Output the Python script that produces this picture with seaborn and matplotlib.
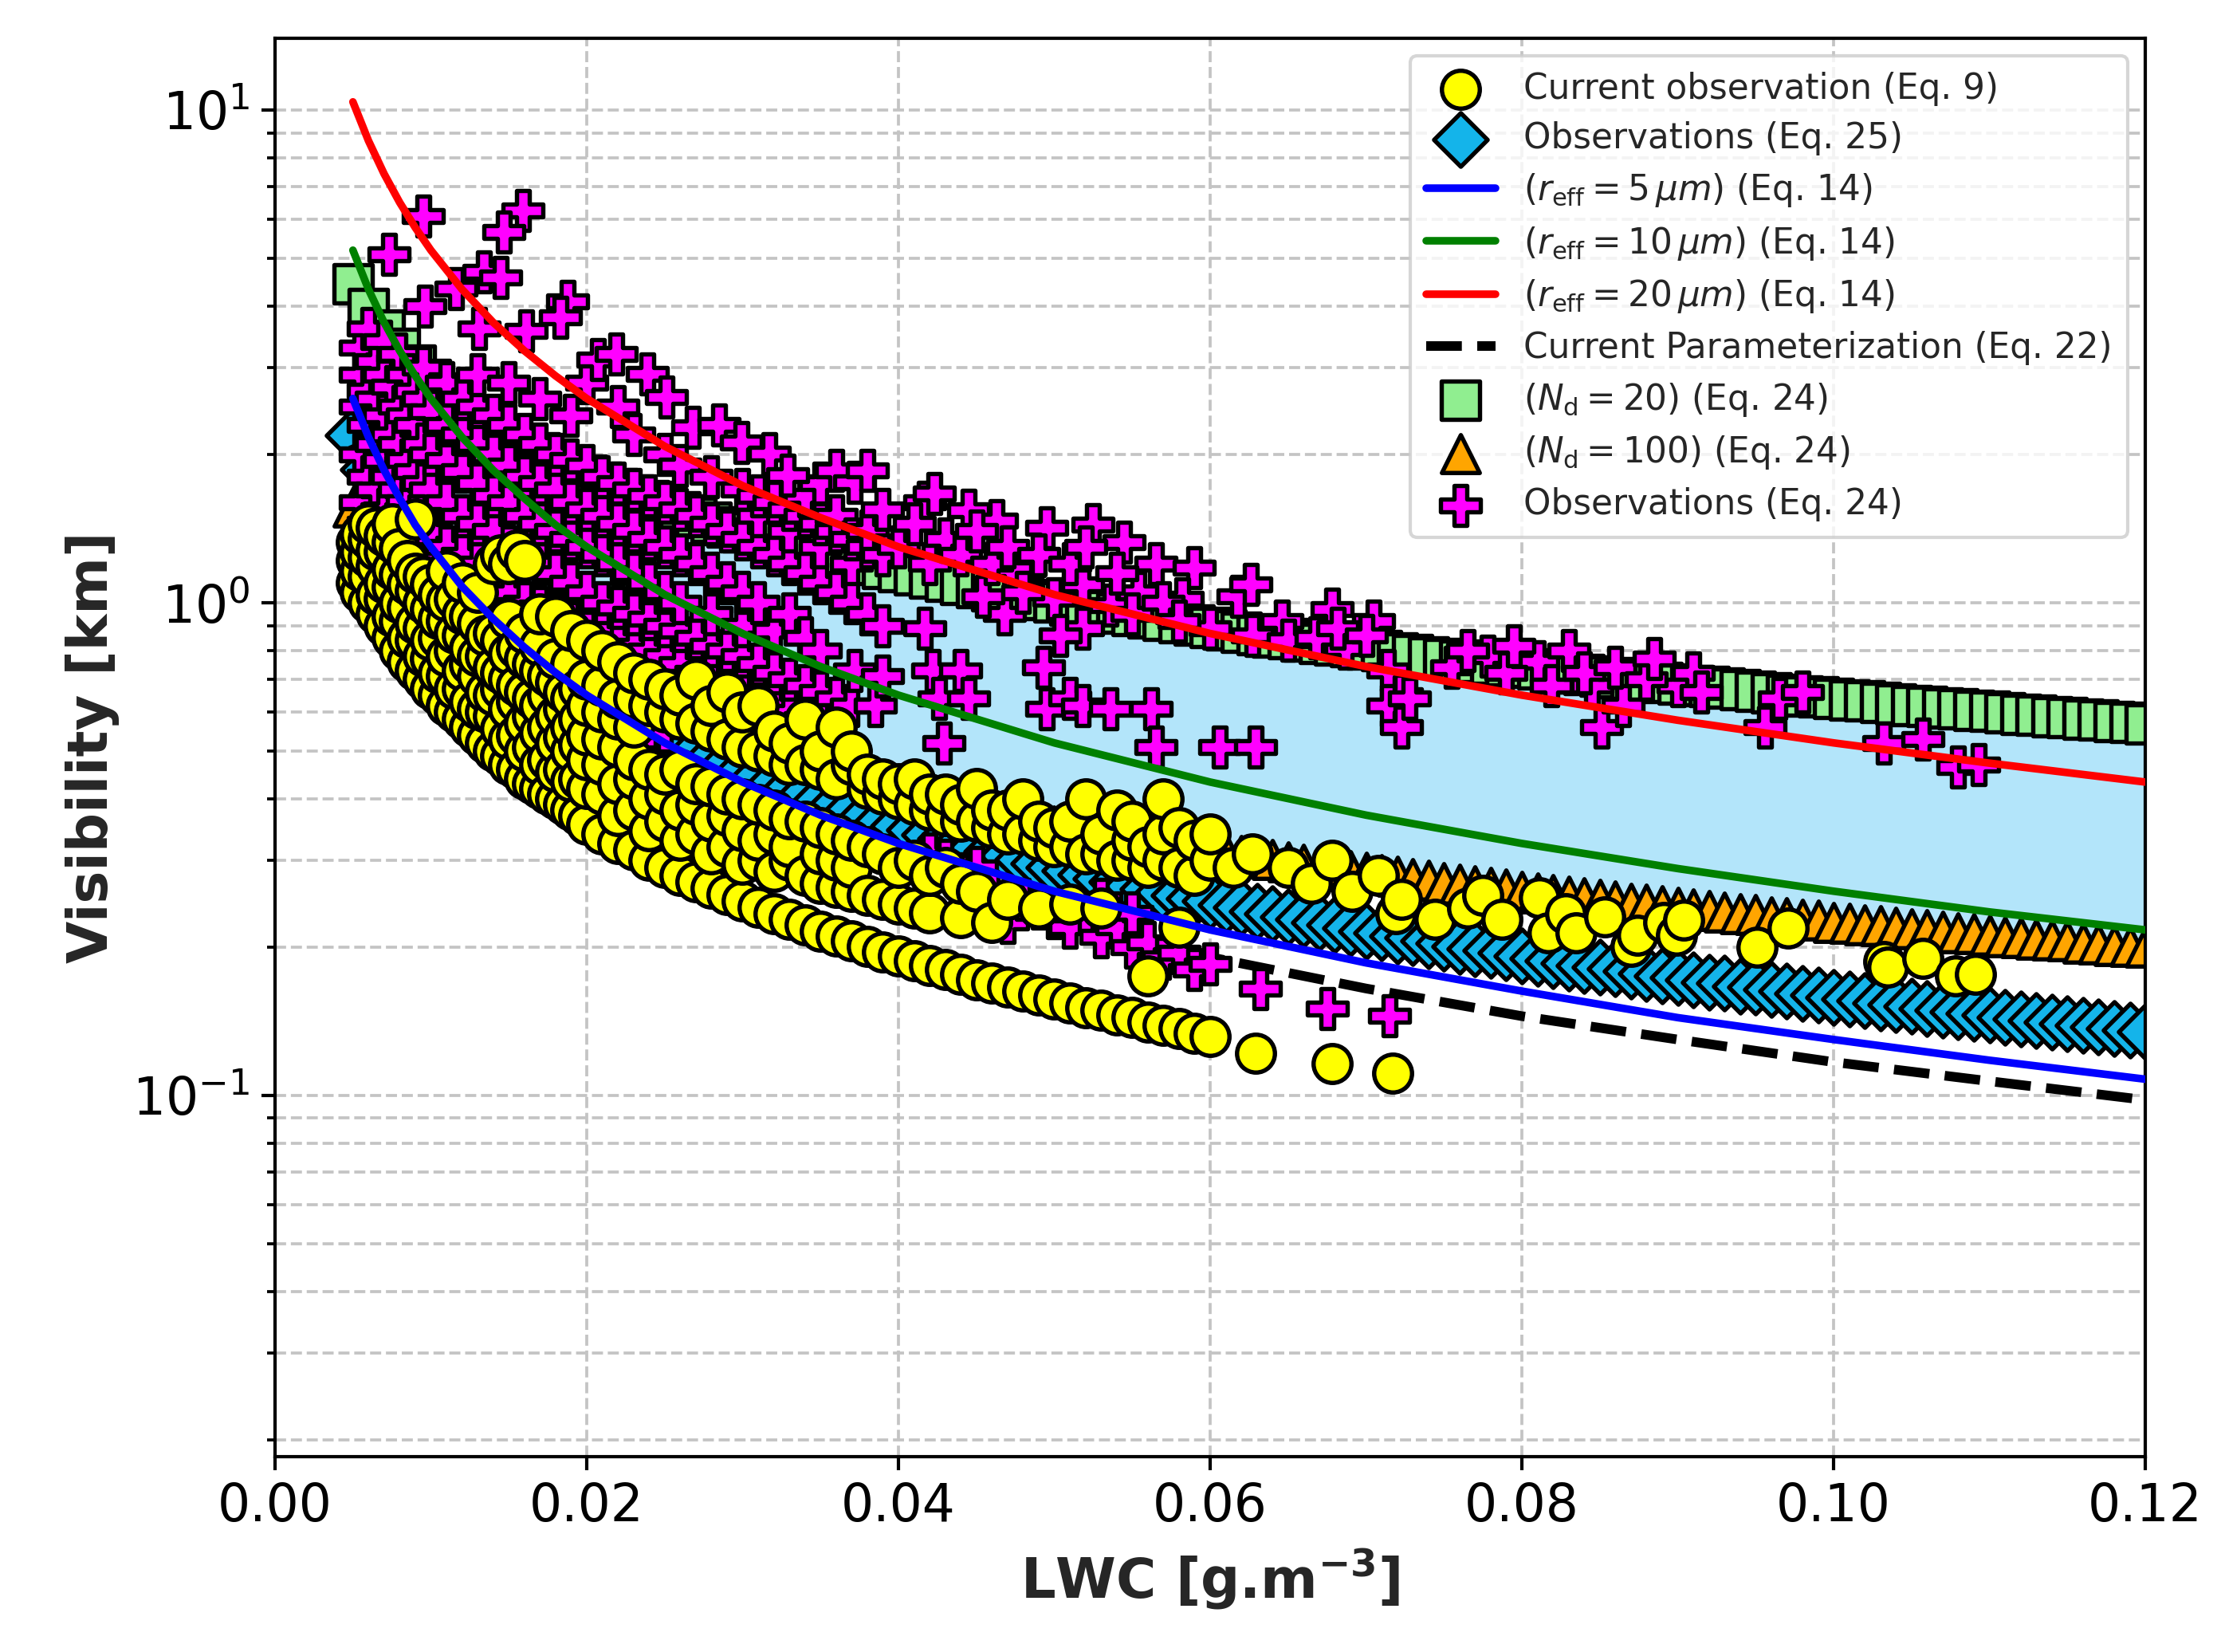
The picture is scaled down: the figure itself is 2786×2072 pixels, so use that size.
import matplotlib
matplotlib.use("Agg")
import matplotlib.pyplot as plt
from matplotlib.ticker import FormatStrFormatter
import seaborn as sns

# ---- data ---------------------------------------------------------------
# regular LWC grid used by the parameterisation markers (g m-3)
lwc_grid = [
    0.005, 0.006, 0.007, 0.008, 0.009, 0.010, 0.011, 0.012, 0.013, 0.014,
    0.015, 0.016, 0.017, 0.018, 0.019, 0.020, 0.021, 0.022, 0.023, 0.024,
    0.025, 0.026, 0.027, 0.028, 0.029, 0.030, 0.031, 0.032, 0.033, 0.034,
    0.035, 0.036, 0.037, 0.038, 0.039, 0.040, 0.041, 0.042, 0.043, 0.044,
    0.045, 0.046, 0.047, 0.048, 0.049, 0.050, 0.051, 0.052, 0.053, 0.054,
    0.055, 0.056, 0.057, 0.058, 0.059, 0.060, 0.061, 0.062, 0.063, 0.064,
    0.065, 0.066, 0.067, 0.068, 0.069, 0.070, 0.071, 0.072, 0.073, 0.074,
    0.075, 0.076, 0.077, 0.078, 0.079, 0.080, 0.081, 0.082, 0.083, 0.084,
    0.085, 0.086, 0.087, 0.088, 0.089, 0.090, 0.091, 0.092, 0.093, 0.094,
    0.095, 0.096, 0.097, 0.098, 0.099, 0.100, 0.101, 0.102, 0.103, 0.104,
    0.105, 0.106, 0.107, 0.108, 0.109, 0.110, 0.111, 0.112, 0.113, 0.114,
    0.115, 0.116, 0.117, 0.118, 0.119, 0.120,
]

# (Nd = 20) (Eq. 24) - green squares
vis_nd20 = [
    4.450, 3.955, 3.579, 3.283, 3.042, 2.841, 2.671, 2.525, 2.397, 2.285,
    2.185, 2.096, 2.015, 1.942, 1.875, 1.814, 1.758, 1.706, 1.657, 1.612,
    1.570, 1.531, 1.494, 1.459, 1.426, 1.395, 1.366, 1.338, 1.312, 1.287,
    1.263, 1.240, 1.218, 1.197, 1.177, 1.158, 1.140, 1.122, 1.105, 1.089,
    1.073, 1.058, 1.043, 1.029, 1.016, 1.003, 0.990, 0.977, 0.965, 0.954,
    0.943, 0.932, 0.921, 0.911, 0.901, 0.891, 0.881, 0.872, 0.863, 0.854,
    0.846, 0.838, 0.829, 0.822, 0.814, 0.806, 0.799, 0.792, 0.785, 0.778,
    0.771, 0.764, 0.758, 0.752, 0.746, 0.740, 0.734, 0.728, 0.722, 0.717,
    0.711, 0.706, 0.700, 0.695, 0.690, 0.685, 0.680, 0.676, 0.671, 0.666,
    0.662, 0.657, 0.653, 0.648, 0.644, 0.640, 0.636, 0.632, 0.628, 0.624,
    0.620, 0.616, 0.613, 0.609, 0.605, 0.602, 0.598, 0.595, 0.591, 0.588,
    0.585, 0.581, 0.578, 0.575, 0.572, 0.569,
]

# (Nd = 100) (Eq. 24) - orange triangles
vis_nd100 = [
    1.566, 1.392, 1.259, 1.155, 1.070, 1.000, 0.940, 0.889, 0.843, 0.804,
    0.769, 0.738, 0.709, 0.683, 0.660, 0.638, 0.619, 0.600, 0.583, 0.567,
    0.552, 0.539, 0.526, 0.513, 0.502, 0.491, 0.481, 0.471, 0.462, 0.453,
    0.444, 0.436, 0.429, 0.421, 0.414, 0.407, 0.401, 0.395, 0.389, 0.383,
    0.378, 0.372, 0.367, 0.362, 0.358, 0.353, 0.348, 0.344, 0.340, 0.336,
    0.332, 0.328, 0.324, 0.321, 0.317, 0.314, 0.310, 0.307, 0.304, 0.301,
    0.298, 0.295, 0.292, 0.289, 0.286, 0.284, 0.281, 0.279, 0.276, 0.274,
    0.271, 0.269, 0.267, 0.265, 0.263, 0.260, 0.258, 0.256, 0.254, 0.252,
    0.250, 0.248, 0.246, 0.245, 0.243, 0.241, 0.239, 0.238, 0.236, 0.234,
    0.233, 0.231, 0.230, 0.228, 0.227, 0.225, 0.224, 0.222, 0.221, 0.220,
    0.218, 0.217, 0.216, 0.214, 0.213, 0.212, 0.210, 0.209, 0.208, 0.207,
    0.206, 0.204, 0.203, 0.202, 0.201, 0.200,
]

# Observations (Eq. 25) - blue diamonds
vis_eq25 = [
    2.190, 1.866, 1.630, 1.450, 1.308, 1.192, 1.097, 1.016, 0.947, 0.888,
    0.836, 0.790, 0.749, 0.712, 0.679, 0.649, 0.622, 0.597, 0.574, 0.553,
    0.534, 0.516, 0.499, 0.483, 0.469, 0.455, 0.442, 0.430, 0.418, 0.408,
    0.397, 0.388, 0.379, 0.370, 0.361, 0.353, 0.346, 0.339, 0.332, 0.325,
    0.319, 0.313, 0.307, 0.301, 0.296, 0.291, 0.286, 0.281, 0.276, 0.272,
    0.267, 0.263, 0.259, 0.255, 0.251, 0.248, 0.244, 0.241, 0.237, 0.234,
    0.231, 0.228, 0.225, 0.222, 0.219, 0.216, 0.214, 0.211, 0.209, 0.206,
    0.204, 0.201, 0.199, 0.197, 0.195, 0.192, 0.190, 0.188, 0.186, 0.184,
    0.182, 0.181, 0.179, 0.177, 0.175, 0.174, 0.172, 0.170, 0.169, 0.167,
    0.166, 0.164, 0.163, 0.161, 0.160, 0.158, 0.157, 0.156, 0.154, 0.153,
    0.152, 0.150, 0.149, 0.148, 0.147, 0.146, 0.144, 0.143, 0.142, 0.141,
    0.140, 0.139, 0.138, 0.137, 0.136, 0.135,
]

# curves (Eq. 14 for three effective radii, Eq. 22)
lwc_line = [0.005, 0.006, 0.007, 0.008, 0.009, 0.010, 0.012, 0.014, 0.016,
            0.018, 0.020, 0.025, 0.030, 0.035, 0.040, 0.050, 0.060, 0.070,
            0.080, 0.090, 0.100, 0.110, 0.120]
vis_r5 = [2.60, 2.17, 1.86, 1.63, 1.44, 1.30, 1.08, 0.929, 0.813, 0.722,
          0.650, 0.520, 0.433, 0.371, 0.325, 0.260, 0.217, 0.186, 0.163,
          0.144, 0.130, 0.118, 0.108]
vis_r10 = [5.20, 4.33, 3.71, 3.25, 2.89, 2.60, 2.17, 1.86, 1.63, 1.44,
           1.30, 1.04, 0.867, 0.743, 0.650, 0.520, 0.433, 0.371, 0.325,
           0.289, 0.260, 0.236, 0.217]
vis_r20 = [10.4, 8.67, 7.43, 6.50, 5.78, 5.20, 4.33, 3.71, 3.25, 2.89,
           2.60, 2.08, 1.73, 1.49, 1.30, 1.04, 0.867, 0.743, 0.650, 0.578,
           0.520, 0.473, 0.433]
vis_eq22 = [2.10, 1.76, 1.52, 1.34, 1.19, 1.08, 0.903, 0.778, 0.684, 0.611,
            0.552, 0.445, 0.373, 0.322, 0.283, 0.228, 0.191, 0.165, 0.145,
            0.130, 0.117, 0.107, 0.098]

# Current observation (Eq. 9): yellow circles, column by column (lwc, [vis])
obs9_columns = [
    (0.0052, [1.10, 1.22, 1.33]),
    (0.0055, [1.05, 1.16, 1.27, 1.38]),
    (0.0060, [1.00, 1.13, 1.24, 1.35, 1.45]),
    (0.0065, [0.95, 1.04, 1.19, 1.28, 1.42]),
    (0.0070, [0.90, 1.02, 1.10, 1.27, 1.37]),
    (0.0075, [0.85, 0.94, 1.08, 1.17, 1.33, 1.45]),
    (0.0080, [0.80, 0.92, 1.00, 1.14, 1.29]),
    (0.0085, [0.76, 0.85, 0.98, 1.09, 1.22]),
    (0.0090, [0.73, 0.84, 0.91, 1.06, 1.15, 1.48]),
    (0.0095, [0.70, 0.78, 0.89, 1.00, 1.13]),
    (0.0100, [0.67, 0.77, 0.84, 0.97, 1.09]),
    (0.0105, [0.65, 0.72, 0.85, 0.93, 1.04]),
    (0.0110, [0.62, 0.71, 0.78, 0.92, 1.01, 1.16]),
    (0.0115, [0.60, 0.67, 0.80, 0.87, 1.02]),
    (0.0120, [0.58, 0.67, 0.73, 0.86, 0.95, 1.10]),
    (0.0125, [0.56, 0.63, 0.75, 0.81, 0.94]),
    (0.0130, [0.54, 0.61, 0.71, 0.78, 0.91, 1.05]),
    (0.0135, [0.52, 0.60, 0.66, 0.78, 0.86]),
    (0.0140, [0.50, 0.59, 0.65, 0.74, 0.87, 1.20]),
    (0.0145, [0.49, 0.555, 0.67, 0.72, 0.84, 1.25]),
    (0.0150, [0.47, 0.53, 0.61, 0.70, 0.79, 0.93, 1.20]),
    (0.0155, [0.46, 0.54, 0.63, 0.68, 0.81, 1.28]),
    (0.0160, [0.44, 0.50, 0.57, 0.66, 0.77, 0.87, 1.22]),
    (0.0165, [0.43, 0.51, 0.59, 0.64, 0.75]),
    (0.0170, [0.42, 0.47, 0.545, 0.62, 0.73, 0.82, 0.95]),
    (0.0175, [0.41, 0.48, 0.56, 0.65, 0.71]),
    (0.0180, [0.40, 0.455, 0.52, 0.59, 0.69, 0.77, 0.94]),
    (0.0185, [0.39, 0.46, 0.535, 0.61, 0.66]),
    (0.0190, [0.38, 0.435, 0.50, 0.56, 0.64, 0.75, 0.88]),
    (0.0195, [0.37, 0.44, 0.515, 0.58, 0.67]),
    (0.0200, [0.355, 0.42, 0.48, 0.54, 0.62, 0.70, 0.84]),
    (0.0210, [0.34, 0.41, 0.47, 0.53, 0.60, 0.68, 0.80]),
    (0.0220, [0.325, 0.37, 0.43, 0.51, 0.58, 0.64, 0.76]),
    (0.0230, [0.315, 0.38, 0.44, 0.48, 0.56, 0.64, 0.72]),
    (0.0240, [0.30, 0.345, 0.40, 0.46, 0.62, 0.70]),
    (0.0250, [0.29, 0.36, 0.41, 0.45, 0.60, 0.67]),
    (0.0260, [0.28, 0.33, 0.38, 0.46, 0.58, 0.65]),
    (0.0270, [0.272, 0.34, 0.39, 0.43, 0.57, 0.70]),
    (0.0280, [0.264, 0.31, 0.36, 0.425, 0.55, 0.62]),
    (0.0290, [0.256, 0.32, 0.37, 0.41, 0.53, 0.66]),
    (0.0300, [0.248, 0.295, 0.345, 0.40, 0.51, 0.60]),
    (0.0310, [0.241, 0.30, 0.33, 0.39, 0.50, 0.62]),
    (0.0320, [0.234, 0.285, 0.34, 0.38, 0.49, 0.55]),
    (0.0330, [0.228, 0.30, 0.32, 0.365, 0.47, 0.52]),
    (0.0340, [0.222, 0.28, 0.36, 0.47, 0.58]),
    (0.0350, [0.216, 0.27, 0.31, 0.35, 0.46, 0.50]),
    (0.0360, [0.211, 0.265, 0.30, 0.34, 0.44, 0.56]),
    (0.0370, [0.206, 0.26, 0.29, 0.33, 0.47, 0.50]),
    (0.0380, [0.201, 0.255, 0.32, 0.42, 0.45]),
    (0.0390, [0.196, 0.25, 0.31, 0.41, 0.44]),
    (0.0400, [0.192, 0.245, 0.29, 0.40, 0.43]),
    (0.0410, [0.188, 0.24, 0.30, 0.39, 0.44]),
    (0.0420, [0.184, 0.235, 0.28, 0.38, 0.41]),
    (0.0430, [0.180, 0.29, 0.37, 0.41]),
    (0.0440, [0.176, 0.23, 0.27, 0.36, 0.39]),
    (0.0450, [0.172, 0.26, 0.36, 0.42]),
    (0.0460, [0.169, 0.225, 0.35, 0.38]),
    (0.0470, [0.166, 0.25, 0.34, 0.38]),
    (0.0480, [0.163, 0.34, 0.40]),
    (0.0490, [0.160, 0.24, 0.33, 0.36]),
    (0.0500, [0.157, 0.32, 0.35]),
    (0.0510, [0.154, 0.245, 0.32, 0.36]),
    (0.0520, [0.151, 0.31, 0.40]),
    (0.0530, [0.149, 0.24, 0.31, 0.34]),
    (0.0540, [0.146, 0.30, 0.38]),
    (0.0550, [0.144, 0.30, 0.33, 0.36]),
    (0.0560, [0.141, 0.175, 0.29, 0.32]),
    (0.0570, [0.139, 0.30, 0.34, 0.40]),
    (0.0580, [0.137, 0.22, 0.29, 0.35]),
    (0.0590, [0.134, 0.28, 0.33]),
    (0.0600, [0.132, 0.30, 0.34]),
]
obs9_sparse_lwc = [0.0615, 0.0627, 0.0650, 0.0665, 0.0678, 0.0691, 0.0708,
                   0.0719, 0.0723, 0.0744, 0.0765, 0.0775, 0.0787, 0.0811,
                   0.0817, 0.0828, 0.0835, 0.0853, 0.0870, 0.0874, 0.0891,
                   0.0899, 0.0904, 0.0951, 0.0971, 0.1032, 0.1035, 0.1057,
                   0.1078, 0.1091, 0.0629, 0.0678, 0.0717]
obs9_sparse_vis = [0.29, 0.31, 0.29, 0.27, 0.30, 0.26, 0.28,
                   0.234, 0.25, 0.228, 0.24, 0.255, 0.228, 0.252,
                   0.214, 0.234, 0.214, 0.231, 0.201, 0.212, 0.225,
                   0.212, 0.227, 0.200, 0.219, 0.187, 0.182, 0.190,
                   0.175, 0.176, 0.122, 0.116, 0.111]

# Observations (Eq. 24): magenta crosses, dense part column by column
obs24_columns = [
    (0.0055, [1.6, 2.0, 2.5, 2.9, 3.3]),
    (0.0060, [1.45, 1.8, 2.3, 2.7, 3.6]),
    (0.0065, [1.35, 1.7, 2.1, 2.6, 3.1]),
    (0.0070, [1.25, 1.55, 1.95, 2.4, 2.9, 3.4]),
    (0.0075, [1.2, 1.45, 1.8, 2.2, 2.75]),
    (0.0080, [1.1, 1.35, 1.7, 2.1, 2.5, 3.2]),
    (0.0085, [1.05, 1.3, 1.6, 1.95, 2.4, 2.9]),
    (0.0090, [1.0, 1.25, 1.5, 1.85, 2.3, 2.7]),
    (0.0095, [0.95, 1.2, 1.45, 1.75, 2.1, 2.6, 3.0]),
    (0.0100, [0.92, 1.15, 1.4, 1.7, 2.0, 2.45]),
    (0.0110, [0.88, 1.05, 1.3, 1.6, 1.95, 2.3, 2.8]),
    (0.0120, [0.85, 1.0, 1.25, 1.5, 1.85, 2.2, 2.6]),
    (0.0130, [0.8, 0.95, 1.2, 1.45, 1.75, 2.1, 2.5, 2.9]),
    (0.0140, [0.78, 0.92, 1.1, 1.4, 1.65, 2.0, 2.4]),
    (0.0150, [0.75, 0.9, 1.05, 1.3, 1.6, 1.9, 2.3, 2.8]),
    (0.0160, [0.72, 0.85, 1.0, 1.25, 1.5, 1.8, 2.2]),
    (0.0170, [0.7, 0.82, 0.98, 1.2, 1.45, 1.75, 2.1, 2.6]),
    (0.0180, [0.68, 0.8, 0.95, 1.15, 1.4, 1.7, 2.0]),
    (0.0190, [0.66, 0.78, 0.92, 1.1, 1.35, 1.6, 1.95, 2.4]),
    (0.0200, [0.64, 0.75, 0.9, 1.05, 1.3, 1.55, 1.9, 2.8]),
    (0.0210, [0.62, 0.72, 0.87, 1.0, 1.25, 1.5, 1.8]),
    (0.0220, [0.6, 0.7, 0.84, 0.98, 1.2, 1.45, 1.75, 2.5]),
    (0.0230, [0.58, 0.68, 0.82, 0.95, 1.15, 1.4, 1.7, 2.2]),
    (0.0240, [0.56, 0.66, 0.8, 0.93, 1.1, 1.35, 1.65]),
    (0.0250, [0.55, 0.64, 0.78, 0.9, 1.05, 1.3, 1.6, 2.0]),
    (0.0260, [0.62, 0.75, 0.88, 1.0, 1.25, 1.55, 1.9]),
    (0.0270, [0.6, 0.72, 0.85, 1.2, 1.5]),
    (0.0280, [0.58, 0.7, 0.82, 0.95, 1.15, 1.45, 1.8]),
    (0.0290, [0.56, 0.68, 0.8, 1.1, 1.4]),
    (0.0300, [0.55, 0.66, 0.78, 0.9, 1.05, 1.35, 1.7]),
    (0.0310, [0.64, 0.75, 1.0, 1.3, 1.5, 1.65]),
    (0.0320, [0.62, 0.72, 0.88, 1.25, 1.6]),
    (0.0330, [0.6, 0.7, 0.95, 1.2, 1.4, 1.55]),
    (0.0340, [0.58, 0.68, 0.85, 1.15, 1.5, 1.65]),
    (0.0350, [0.56, 0.66, 0.8, 1.1, 1.3, 1.45, 1.75]),
    (0.0360, [0.64, 1.05, 1.4, 1.5]),
    (0.0370, [0.62, 1.0, 1.2, 1.35]),
    (0.0380, [0.95, 1.3, 1.4]),
    (0.0390, [0.9, 1.25, 1.55]),
]
obs24_extra_lwc = [
    # top outliers
    0.0095, 0.0073, 0.0159, 0.0147, 0.0134, 0.0145, 0.0188, 0.0183, 0.0116,
    0.0131, 0.0096, 0.0161,
    # upper edge of the cloud
    0.0207, 0.0219, 0.0239, 0.0251, 0.0268, 0.0285, 0.0299, 0.0317, 0.0329,
    0.0360, 0.0372, 0.0380, 0.0417, 0.0423, 0.0445, 0.0463, 0.0495, 0.0525,
    0.0545, 0.0565, 0.0590, 0.0618, 0.0626, 0.0646, 0.0678, 0.0705, 0.0687,
    0.0714, 0.0778, 0.0810, 0.0819, 0.0845, 0.0851, 0.0865, 0.0900, 0.0956,
    0.1032, 0.1057, 0.1080, 0.1093,
    # middle groups
    0.0372, 0.0385, 0.0390, 0.0417, 0.0422, 0.0426, 0.0440, 0.0445, 0.0429,
    0.0493, 0.0495, 0.0510, 0.0518, 0.0536, 0.0562, 0.0565, 0.0606, 0.0629,
    0.0481, 0.0500, 0.0518, 0.0536, 0.0554, 0.0518, 0.0504, 0.0468, 0.0454,
    0.0472, 0.0582,
    0.0600, 0.0627, 0.0650, 0.0668, 0.0682, 0.0700, 0.0723, 0.0714, 0.0723,
    0.0728,
    0.0400, 0.0410, 0.0420, 0.0430, 0.0440, 0.0450, 0.0460, 0.0470, 0.0480,
    0.0490, 0.0510, 0.0520, 0.0540, 0.0550, 0.0570, 0.0580,
    # near the Nd = 20 squares
    0.0755, 0.0765, 0.0790, 0.0795, 0.0830, 0.0840, 0.0860, 0.0880, 0.0885,
    0.0910, 0.0915, 0.0965, 0.0980,
    # lower band under the yellow circles
    0.0420, 0.0430, 0.0440, 0.0450, 0.0460, 0.0470, 0.0470, 0.0480, 0.0490,
    0.0500, 0.0510, 0.0520, 0.0530, 0.0530, 0.0540, 0.0550, 0.0550, 0.0560,
    0.0570, 0.0580, 0.0590, 0.0600,
    # isolated below the dashed line
    0.0632, 0.0675, 0.0715,
]
obs24_extra_vis = [
    6.1, 5.1, 6.25, 5.66, 4.7, 4.57, 4.09, 3.8, 4.35,
    3.6, 4.0, 3.57,
    3.12, 3.2, 2.92, 2.62, 2.27, 2.3, 2.12, 2.01, 1.82,
    1.86, 1.76, 1.86, 1.6, 1.67, 1.54, 1.47, 1.42, 1.44,
    1.33, 1.2, 1.18, 1.03, 1.09, 0.92, 0.97, 0.92, 0.81,
    0.73, 0.78, 0.76, 0.68, 0.68, 0.56, 0.62, 0.68, 0.56,
    0.52, 0.53, 0.465, 0.47,
    0.73, 0.62, 0.71, 0.89, 0.73, 0.64, 0.73, 0.64, 0.52,
    0.74, 0.61, 0.64, 0.62, 0.61, 0.61, 0.51, 0.51, 0.51,
    1.17, 1.02, 1.09, 0.99, 1.05, 0.89, 0.86, 0.95, 1.03,
    1.17, 1.02,
    0.89, 0.86, 0.84, 0.85, 0.89, 0.86, 0.65, 0.62, 0.56,
    0.64,
    1.3, 1.45, 1.2, 1.35, 1.25, 1.4, 1.2, 1.3, 1.05,
    1.25, 1.2, 1.3, 1.15, 0.95, 1.0, 0.92,
    0.74, 0.8, 0.72, 0.82, 0.8, 0.72, 0.74, 0.7, 0.77,
    0.72, 0.66, 0.64, 0.66,
    0.31, 0.30, 0.28, 0.29, 0.26, 0.245, 0.225, 0.25, 0.24,
    0.23, 0.22, 0.235, 0.21, 0.25, 0.22, 0.20, 0.235, 0.205,
    0.19, 0.195, 0.18, 0.185,
    0.165, 0.15, 0.145,
]

# ---- flatten the column tables ---------------------------------------------
obs9_lwc = [x for x, ys in obs9_columns for _ in ys] + obs9_sparse_lwc
obs9_vis = [y for _, ys in obs9_columns for y in ys] + obs9_sparse_vis
obs24_lwc = [x for x, ys in obs24_columns for _ in ys] + obs24_extra_lwc
obs24_vis = [y for _, ys in obs24_columns for y in ys] + obs24_extra_vis

# ---- figure ---------------------------------------------------------------
sns.set_theme(style="ticks")
plt.rcParams["font.family"] = ["DejaVu Sans"]
plt.rcParams["mathtext.fontset"] = "dejavusans"
plt.rcParams["axes.edgecolor"] = "black"
plt.rcParams["xtick.color"] = "black"
plt.rcParams["ytick.color"] = "black"

fig = plt.figure(figsize=(9.287, 6.907), dpi=300)
ax = fig.add_axes([0.1238, 0.1182, 0.8421, 0.8586])
ax.set_yscale("log")

ms = 130
ew = 1.3
ax.fill_between(lwc_grid, vis_nd20, vis_nd100, color="#b3e5fa", lw=0, zorder=1)

sns.scatterplot(x=lwc_grid, y=vis_nd20, marker="s", s=ms, color="lightgreen",
                edgecolor="black", linewidth=ew, zorder=2,
                label=r"($N_{\mathrm{d}} = 20$) (Eq. 24)", ax=ax)
sns.scatterplot(x=lwc_grid, y=vis_nd100, marker="^", s=ms, color="orange",
                edgecolor="black", linewidth=ew, zorder=2,
                label=r"($N_{\mathrm{d}} = 100$) (Eq. 24)", ax=ax)
sns.scatterplot(x=lwc_grid, y=vis_eq25, marker="D", s=ms, color="#14b4ea",
                edgecolor="black", linewidth=ew, zorder=2.5,
                label="Observations (Eq. 25)", ax=ax)

sns.lineplot(x=lwc_line, y=vis_eq22, color="black", linestyle="--",
             linewidth=2.9, zorder=3, errorbar=None,
             label="Current Parameterization (Eq. 22)", ax=ax)

sns.scatterplot(x=obs24_lwc, y=obs24_vis, marker="P", s=ms * 1.1,
                color="magenta", edgecolor="black", linewidth=ew, zorder=4,
                label="Observations (Eq. 24)", ax=ax)
sns.scatterplot(x=obs9_lwc, y=obs9_vis, marker="o", s=ms, color="yellow",
                edgecolor="black", linewidth=ew, zorder=5,
                label="Current observation (Eq. 9)", ax=ax)

sns.lineplot(x=lwc_line, y=vis_r5, color="blue", linewidth=2.3, zorder=6,
             errorbar=None, label=r"($r_{\mathrm{eff}} = 5\,\mu m$) (Eq. 14)", ax=ax)
sns.lineplot(x=lwc_line, y=vis_r10, color="green", linewidth=2.3, zorder=6,
             errorbar=None, label=r"($r_{\mathrm{eff}} = 10\,\mu m$) (Eq. 14)", ax=ax)
sns.lineplot(x=lwc_line, y=vis_r20, color="red", linewidth=2.3, zorder=6,
             errorbar=None, label=r"($r_{\mathrm{eff}} = 20\,\mu m$) (Eq. 14)", ax=ax)

ax.set_xlim(0, 0.12)
ax.set_ylim(0.0185, 14.0)
ax.set_xticks([0.0, 0.02, 0.04, 0.06, 0.08, 0.10, 0.12])
ax.xaxis.set_major_formatter(FormatStrFormatter("%.2f"))
ax.tick_params(axis="both", which="major", labelsize=15.5, width=1.0, length=4)
ax.tick_params(axis="y", which="minor", width=0.9, length=2.5)

ax.set_axisbelow(True)
ax.grid(True, which="major", axis="x", linestyle="--", color="#c4c4c4", linewidth=0.9)
ax.grid(True, which="both", axis="y", linestyle="--", color="#c4c4c4", linewidth=0.9)
for sp in ax.spines.values():
    sp.set_linewidth(1.0)
    sp.set_color("black")

ax.set_xlabel(r"LWC [g.m$^{\mathbf{-3}}$]", fontsize=16.5, fontweight="bold")
ax.set_ylabel("Visibility [km]", fontsize=16.5, fontweight="bold")

order = ["Current observation (Eq. 9)",
         "Observations (Eq. 25)",
         r"($r_{\mathrm{eff}} = 5\,\mu m$) (Eq. 14)",
         r"($r_{\mathrm{eff}} = 10\,\mu m$) (Eq. 14)",
         r"($r_{\mathrm{eff}} = 20\,\mu m$) (Eq. 14)",
         "Current Parameterization (Eq. 22)",
         r"($N_{\mathrm{d}} = 20$) (Eq. 24)",
         r"($N_{\mathrm{d}} = 100$) (Eq. 24)",
         "Observations (Eq. 24)"]
handles, labels = ax.get_legend_handles_labels()
lookup = dict(zip(labels, handles))
leg = ax.legend([lookup[l] for l in order], order, loc="upper right",
                fontsize=10.5, framealpha=0.8, borderpad=0.45,
                labelspacing=0.45, handlelength=2.0)
leg.set_zorder(20)

fig.savefig("out.png", dpi=300)
